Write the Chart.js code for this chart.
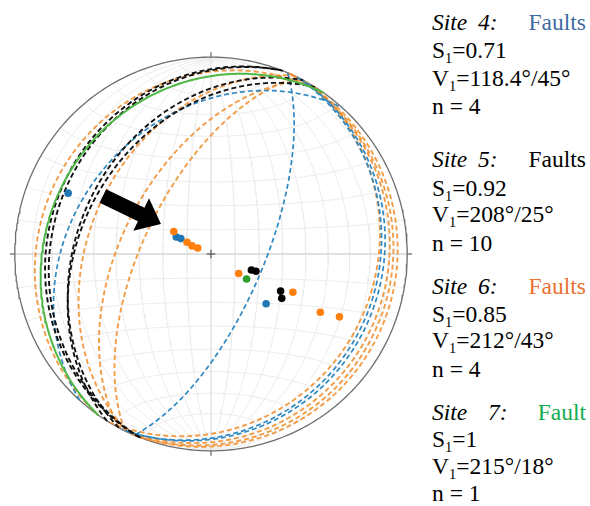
<!DOCTYPE html>
<html>
<head>
<meta charset="utf-8">
<script src="https://cdn.jsdelivr.net/npm/chart.js@4/dist/chart.umd.min.js"></script>
<style>
  html, body { margin: 0; padding: 0; background: #fff; }
  #wrap { position: relative; width: 590px; height: 506px; overflow: hidden; }
  #net { position: absolute; left: 0; top: 0; }
  .t { position: absolute; font-family: "Liberation Serif", "Times New Roman", serif;
       font-size: 23.5px; line-height: 23.5px; color: #000; white-space: nowrap; }
  .t i { font-style: italic; }
  .sb { font-size: 14.5px; position: relative; top: 5px; }
</style>
</head>
<body>
<div id="wrap">
  <canvas id="net" width="422" height="506"></canvas>
  <div id="legend"></div>
</div>
<script>
// Poles to fault planes, lower hemisphere (trend °, plunge °)
const site4Trend  = [293, 296, 297, 132];
const site4Plunge = [22, 74, 76, 59];
const site5Trend  = [111.5, 111, 118, 122];
const site5Plunge = [72, 70, 57, 55];
const site6Trend  = [301, 296, 293, 294, 125, 115, 118, 116];
const site6Plunge = [72, 79, 81.5, 84, 76, 52, 37, 28];
const site7Trend  = [125];
const site7Plunge = [72];

// Summary text for each site
const siteNumbers = ['4:', '5:', '6:', '7:'];
const siteKinds   = ['Faults', 'Faults', 'Faults', 'Fault'];
const s1Values    = ['0.71', '0.92', '0.85', '1'];
const v1Values    = ['118.4°/45°', '208°/25°', '212°/43°', '215°/18°'];
const nValues     = ['4', '10', '4', '1'];

// Direction arrow, in net coordinates (unit primitive circle)
const arrowTail = [-0.551, 0.295];
const arrowTip  = [-0.255, 0.152];

const DEG = Math.PI / 180;

// Lambert equal-area projection of a lower-hemisphere unit vector (north, east, down)
function project(n, e, d) {
  const h = Math.hypot(n, e);
  if (h < 1e-9) return { x: 0, y: 0 };
  const r = Math.sqrt(Math.max(0, 1 - d));
  return { x: r * e / h, y: r * n / h };
}

function poleVector(trend, plunge) {
  const t = trend * DEG, p = plunge * DEG;
  return [Math.cos(p) * Math.cos(t), Math.cos(p) * Math.sin(t), Math.sin(p)];
}

// Great circle of the plane normal to a given pole
function greatCircle(trend, plunge) {
  const t = trend * DEG, p = plunge * DEG;
  const s = [-Math.sin(t), Math.cos(t), 0];
  const dv = [-Math.sin(p) * Math.cos(t), -Math.sin(p) * Math.sin(t), Math.cos(p)];
  const pts = [];
  for (let a = 0; a <= 180; a += 1) {
    const c = Math.cos(a * DEG), sn = Math.sin(a * DEG);
    pts.push(project(c * s[0] + sn * dv[0], c * s[1] + sn * dv[1], c * s[2] + sn * dv[2]));
  }
  return pts;
}

// Net graticule: meridians through N and S, small circles about the N-S axis
function meridian(dip, side) {
  const pts = [];
  const cd = Math.cos(dip * DEG), sd = Math.sin(dip * DEG);
  for (let a = 0; a <= 180; a += 2) {
    const c = Math.cos(a * DEG), sn = Math.sin(a * DEG);
    pts.push(project(c, sn * cd * side, sn * sd));
  }
  return pts;
}
function smallCircle(cone, sign) {
  const pts = [];
  const cc = Math.cos(cone * DEG), sc = Math.sin(cone * DEG);
  for (let a = 0; a <= 180; a += 2) {
    const c = Math.cos(a * DEG), sn = Math.sin(a * DEG);
    pts.push(project(sign * cc, sc * c, sc * sn));
  }
  return pts;
}
function primitive() {
  const pts = [];
  for (let a = 0; a <= 360; a += 1) pts.push(project(Math.cos(a * DEG), Math.sin(a * DEG), 0));
  return pts;
}

const lineBase = { showLine: true, pointRadius: 0, fill: false, tension: 0, clip: false };
const datasets = [];

// poles (top layer)
function addPoles(trends, plunges, color) {
  datasets.push({
    data: trends.map((t, i) => { const v = poleVector(t, plunges[i]); return project(v[0], v[1], v[2]); }),
    pointRadius: 3.8, pointBackgroundColor: color, pointBorderWidth: 0, showLine: false, order: 0, clip: false
  });
}
addPoles(site6Trend, site6Plunge, '#ff7f0e');
addPoles(site4Trend, site4Plunge, '#1f77b4');
addPoles(site5Trend, site5Plunge, '#000000');
addPoles(site7Trend, site7Plunge, '#2ca02c');

// fault planes
function addPlanes(trends, plunges, style, order) {
  trends.forEach((t, i) => {
    datasets.push(Object.assign({}, lineBase, style, { data: greatCircle(t, plunges[i]), order }));
  });
}
addPlanes(site7Trend, site7Plunge, { borderColor: '#4fb846', borderWidth: 2 }, 1);
addPlanes(site5Trend, site5Plunge, { borderColor: '#111111', borderWidth: 1.9, borderDash: [5, 3] }, 2);
addPlanes(site4Trend, site4Plunge, { borderColor: '#3088c0', borderWidth: 1.7, borderDash: [5, 3] }, 3);
addPlanes(site6Trend, site6Plunge, { borderColor: 'rgba(240,140,40,0.85)', borderWidth: 1.9, borderDash: [5, 3] }, 4);

// graticule
const gridStyle = { borderColor: '#ececec', borderWidth: 1 };
for (let d = 10; d <= 80; d += 10) {
  datasets.push(Object.assign({}, lineBase, gridStyle, { data: meridian(d, 1), order: 10 }));
  datasets.push(Object.assign({}, lineBase, gridStyle, { data: meridian(d, -1), order: 10 }));
  datasets.push(Object.assign({}, lineBase, gridStyle, { data: smallCircle(d, 1), order: 10 }));
  datasets.push(Object.assign({}, lineBase, gridStyle, { data: smallCircle(d, -1), order: 10 }));
}
datasets.push(Object.assign({}, lineBase, { borderColor: '#dedede', borderWidth: 1.3, data: meridian(90, 1), order: 9 }));
datasets.push(Object.assign({}, lineBase, { borderColor: '#dedede', borderWidth: 1.3, data: smallCircle(90, 1), order: 9 }));
datasets.push(Object.assign({}, lineBase, { borderColor: '#dedede', borderWidth: 1.3, data: smallCircle(90, -1), order: 9 }));

// primitive circle, cardinal ticks and centre cross
datasets.push(Object.assign({}, lineBase, { borderColor: '#6e6e6e', borderWidth: 1.3, data: primitive(), order: 5 }));
const tickLen = 0.025, crossLen = 0.022;
[[0, 1], [1, 0], [0, -1], [-1, 0]].forEach(([ux, uy]) => {
  datasets.push(Object.assign({}, lineBase, { borderColor: '#6e6e6e', borderWidth: 1.3,
    data: [{ x: ux, y: uy }, { x: ux * (1 + tickLen), y: uy * (1 + tickLen) }], order: 5 }));
});
datasets.push(Object.assign({}, lineBase, { borderColor: '#555', borderWidth: 1.2,
  data: [{ x: -crossLen, y: 0 }, { x: crossLen, y: 0 }], order: 5 }));
datasets.push(Object.assign({}, lineBase, { borderColor: '#555', borderWidth: 1.2,
  data: [{ x: 0, y: -crossLen }, { x: 0, y: crossLen }], order: 5 }));

// block arrow drawn on top of everything
const arrowPlugin = {
  id: 'arrow',
  afterDatasetsDraw(chart) {
    const xs = chart.scales.x, ys = chart.scales.y, ctx = chart.ctx;
    const x0 = xs.getPixelForValue(arrowTail[0]), y0 = ys.getPixelForValue(arrowTail[1]);
    const x1 = xs.getPixelForValue(arrowTip[0]), y1 = ys.getPixelForValue(arrowTip[1]);
    const L = Math.hypot(x1 - x0, y1 - y0);
    const ux = (x1 - x0) / L, uy = (y1 - y0) / L, nx = -uy, ny = ux;
    const shaft = 7.5, head = 18, headLen = 22;
    const bx = x1 - ux * headLen, by = y1 - uy * headLen;
    ctx.save();
    ctx.fillStyle = '#000';
    ctx.beginPath();
    ctx.moveTo(x0 + nx * shaft, y0 + ny * shaft);
    ctx.lineTo(bx + nx * shaft, by + ny * shaft);
    ctx.lineTo(bx + nx * head, by + ny * head);
    ctx.lineTo(x1, y1);
    ctx.lineTo(bx - nx * head, by - ny * head);
    ctx.lineTo(bx - nx * shaft, by - ny * shaft);
    ctx.lineTo(x0 - nx * shaft, y0 - ny * shaft);
    ctx.closePath();
    ctx.fill();
    ctx.restore();
  }
};

new Chart(document.getElementById('net').getContext('2d'), {
  type: 'scatter',
  data: { datasets },
  options: {
    responsive: false,
    animation: false,
    events: [],
    layout: { padding: 0 },
    plugins: { legend: { display: false }, tooltip: { enabled: false } },
    scales: {
      x: { type: 'linear', min: -211 / 200, max: 211 / 200, display: false },
      y: { type: 'linear', min: -252 / 200, max: 254 / 200, display: false }
    }
  },
  plugins: [arrowPlugin]
});

// site summaries
const kindColors = ['#3f6aa3', '#000000', '#e97132', '#12ad4e'];
const baselines = [[31, 59, 87, 115], [168, 197, 223, 252], [295, 323, 349, 378], [421, 448, 475, 502]];
const numberX = [478, 478, 478, 488];
const asc = 19.7;
const legend = document.getElementById('legend');
function put(html, left, base, extra) {
  const el = document.createElement('div');
  el.className = 't';
  el.innerHTML = html;
  el.style.top = (base - asc) + 'px';
  if (left !== null) el.style.left = left + 'px';
  if (extra) Object.assign(el.style, extra);
  legend.appendChild(el);
}
siteNumbers.forEach((num, i) => {
  const b = baselines[i];
  put('<i>Site</i>', 432, b[0]);
  put('<i>' + num + '</i>', numberX[i], b[0]);
  put(siteKinds[i], null, b[0], { right: '4px', color: kindColors[i] });
  put('S<span class="sb">1</span>=' + s1Values[i], 432, b[1]);
  put('V<span class="sb">1</span>=' + v1Values[i], 432, b[2]);
  put('n = ' + nValues[i], 432, b[3]);
});
</script>
</body>
</html>
